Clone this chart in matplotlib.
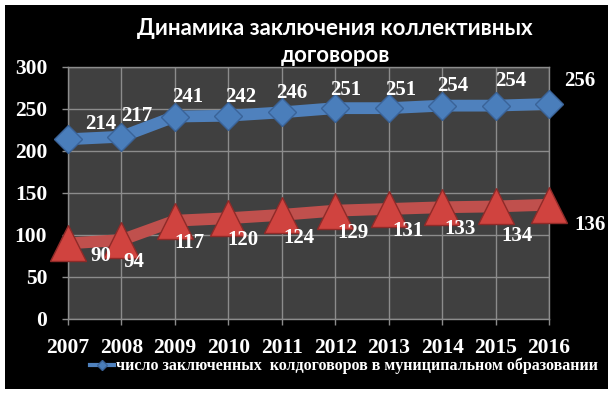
import matplotlib
matplotlib.use("Agg")
import matplotlib.pyplot as plt
from matplotlib.patches import Rectangle

# ---- data ----
years = ["2007", "2008", "2009", "2010", "2011", "2012", "2013", "2014", "2015", "2016"]
contracts_total = [214, 217, 241, 242, 246, 251, 251, 254, 254, 256]
contracts_red = [90, 94, 117, 120, 124, 129, 131, 133, 134, 136]
y_ticks = [0, 50, 100, 150, 200, 250, 300]
title_text = "Динамика заключения коллективных\nдоговоров"
legend_label = "число заключенных  колдоговоров в муниципальном образовании"

# label offsets (pixels, dx, dy-up) -- styling
blue_off = [(33, 15), (15, 21), (13, 20), (12, 19), (10, 19), (10, 18), (12, 18), (11, 20), (15, 25), (31, 23)]
red_off = [(33, -13), (12, -22), (15, -22), (15, -22), (17, -23), (18, -22), (19, -22), (18, -22), (21, -30), (41, -20)]

W, H = 615, 397
fig = plt.figure(figsize=(W / 100, H / 100), dpi=100, facecolor="white")
fig.patches.append(Rectangle((5 / W, 1 - 389 / H), 603 / W, 384 / H,
                             transform=fig.transFigure, facecolor="black",
                             edgecolor="none", zorder=-5))

ax = fig.add_axes([68 / W, 1 - 319 / H, 481 / W, 252 / H])
ax.set_zorder(1)
ax.set_facecolor("#404040")
x = list(range(len(years)))

blue_line, = ax.plot(x, contracts_total, color="#4F81BD", lw=8.5, marker="D",
                     markersize=14, markerfacecolor="#4A7EBB", markeredgecolor="#3A6398",
                     markeredgewidth=1, clip_on=False, zorder=3,
                     solid_joinstyle="round", label=legend_label)
ax.plot(x, contracts_red, color="#C0504D", lw=8.5, marker="^", markersize=26,
        markerfacecolor="#D0433F", markeredgecolor="#8E2A28", markeredgewidth=1,
        clip_on=False, zorder=3, solid_joinstyle="round")

lab_font = dict(family="Liberation Serif", weight="bold", size=15, color="white")
px = 0.72
for xi, v, (dx, dy) in zip(x, contracts_total, blue_off):
    ax.annotate(str(v), (xi, v), xytext=(dx * px, dy * px), textcoords="offset points",
                ha="center", va="center", annotation_clip=False, zorder=5, **lab_font)
for xi, v, (dx, dy) in zip(x, contracts_red, red_off):
    ax.annotate(str(v), (xi, v), xytext=(dx * px, dy * px), textcoords="offset points",
                ha="center", va="center", annotation_clip=False, zorder=5, **lab_font)

ax.set_xlim(0, len(years) - 1)
ax.set_ylim(0, 300)
ax.set_yticks(y_ticks)
ax.set_xticks(x)
ax.set_xticklabels(years)
ax.grid(True, color="#8C8C8C", lw=1)
ax.set_axisbelow(True)
for s in ax.spines.values():
    s.set_color("#8C8C8C")
    s.set_linewidth(1)
ax.tick_params(axis="both", colors="#8C8C8C", length=4, width=1)
ax.tick_params(axis="y", pad=11, labelcolor="white")
ax.tick_params(axis="x", pad=10, labelcolor="white")
for lab in ax.get_xticklabels() + ax.get_yticklabels():
    lab.set_fontfamily("Liberation Serif")
    lab.set_fontweight("bold")
    lab.set_fontsize(15.5)

fig.text(335 / W, 1 - 42 / H, title_text, ha="center", va="center", color="white",
         fontsize=16, fontweight="bold", family="Lato", linespacing=1.4)

leg = fig.legend(handles=[blue_line], loc="center left",
                 bbox_to_anchor=(90 / W, 1 - 366 / H), frameon=False,
                 handlelength=1.5, handletextpad=0.15, borderpad=0, borderaxespad=0,
                 prop=dict(family="Liberation Serif", weight="bold", size=11.5))
for t in leg.get_texts():
    t.set_color("white")
lh = leg.legend_handles[0]
lh.set_linewidth(3)
lh.set_markersize(5)

fig.savefig("out.png", dpi=100, facecolor="white")
